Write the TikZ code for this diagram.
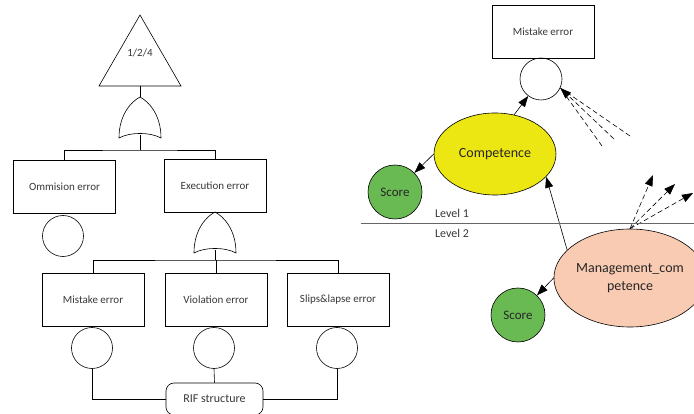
\documentclass[tikz,border=0pt]{standalone}
\usepackage{fontspec}
\setmainfont{Carlito}
\usetikzlibrary{arrows.meta,shapes.geometric}
\definecolor{compyellow}{RGB}{236,230,18}
\definecolor{scoregreen}{RGB}{106,186,84}
\definecolor{mgmtpeach}{RGB}{249,203,178}
\definecolor{txt}{RGB}{55,55,55}
\tikzset{
  every path/.style={line width=0.6pt},
  evbox/.style={draw, rectangle, minimum width=102pt, minimum height=53pt, inner sep=0pt,
    font=\fontsize{11}{13}\selectfont, text=txt},
  basic/.style={draw, circle, minimum size=41pt, inner sep=0pt},
  rif/.style={draw, rectangle, rounded corners=8pt, minimum width=97pt, minimum height=32pt,
    font=\fontsize{12}{14}\selectfont, text=txt},
  score/.style={draw, circle, fill=scoregreen, minimum size=54pt, inner sep=0pt,
    font=\fontsize{13}{15}\selectfont, text=black!85},
  factor/.style={draw, ellipse, inner sep=0pt, align=center, text=black!85},
  arr/.style={-{Triangle[length=11pt,width=8pt]}},
  dasharr/.style={arr, dash pattern=on 5pt off 3pt},
  dashln/.style={dash pattern=on 5pt off 3pt},
  lvl/.style={font=\fontsize{12}{14}\selectfont, text=txt}
}
% OR gate: #1 name, (#2,#3) tip, #4 half width, #5 height
\newcommand{\orgate}[5]{%
  \coordinate (#1-top) at (#2,#3);
  \coordinate (#1-bot) at (#2,#3+#5-3);
  \draw (#2-#4,#3+#5) .. controls (#2-#4,#3+0.45*#5) and (#2-0.45*#4,#3+0.12*#5) .. (#2,#3)
        .. controls (#2+0.45*#4,#3+0.12*#5) and (#2+#4,#3+0.45*#5) .. (#2+#4,#3+#5)
        .. controls (#2+0.5*#4,#3+#5-6) and (#2-0.5*#4,#3+#5-6) .. cycle;
}
\begin{document}
\begin{tikzpicture}[x=1pt,y=-1pt]
\useasboundingbox (0,0) rectangle (694,414);

% ---------- fault tree ----------
\draw (140,15) -- (181,86) -- (99,86) -- cycle;
\coordinate (tri-b) at (140,86);
\node[font=\fontsize{11}{13}\selectfont, text=txt] (topev) at (140,53) {1/2/4};

\orgate{g1}{140}{97}{21}{41}
\draw (tri-b) -- (g1-top);
\coordinate (j1) at (140,150);

\node[evbox] (om) at (64.5,186.5) {Ommision error};
\node[evbox] (ex) at (215,185.5) {Execution error};
\draw (g1-bot) -- (j1);
\draw (om.north) |- (j1) -| (ex.north);
\node[basic] (omc) at (63,236) {};

\orgate{g2}{215}{212}{21}{41}
\coordinate (j2) at (215,260);
\draw (g2-bot) -- (j2);

\node[evbox] (mis) at (93,299.5) {Mistake error};
\node[evbox] (vio) at (216,299.5) {Violation error};
\node[evbox] (sli) at (338,299.5) {Slips\&lapse error};
\draw (mis.north) |- (j2) -| (sli.north);
\draw (j2 -| vio.north) -- (vio.north);

\node[basic] (mc1) at (92,348) {};
\node[basic] (mc2) at (214,348) {};
\node[basic] (mc3) at (337,348) {};

\node[rif] (rifs) at (214.5,399) {RIF structure};
\draw (mc1.south) |- (rifs.west);
\draw (mc3.south) |- (rifs.east);
\draw (mc2.south) -- (rifs.north);

% ---------- RIF structure ----------
\node[evbox] (mbox) at (543,32) {Mistake error};
\node[basic, minimum size=42pt] (mcr) at (541,79) {};

\node[factor, fill=compyellow, minimum width=122pt, minimum height=82pt,
      font=\fontsize{14}{16}\selectfont] (comp) at (495,154) {Competence};
\node[score] (sc1) at (395,192) {Score};

\node[factor, fill=mgmtpeach, minimum width=138pt, minimum height=98pt,
      font=\fontsize{14}{18}\selectfont] (mgmt) at (630,278) {Management\_com\\petence};
\node[score] (sc2) at (518,315) {Score};

\draw[arr] (comp.64) -- (mcr);
\draw[arr] (comp.west) -- (sc1);
\draw[arr] (mgmt.156) -- (comp.-24);
\draw[arr] (mgmt.west) -- (sc2);

% incoming influences from other factors
\coordinate (d1) at (602,146);
\coordinate (d2) at (614,139);
\coordinate (d3) at (630,136);
\draw[dashln] (d1) -- (mcr.-25);
\draw[dashln] (d3) -- (mcr.-25);
\draw[dasharr] (d2) -- (mcr.-25);

% outgoing influences to other factors
\coordinate (u1) at (653,175);
\coordinate (u2) at (675,184);
\coordinate (u3) at (693,193);
\draw[dasharr] (mgmt.north) -- (u1);
\draw[dasharr] (mgmt.north) -- (u2);
\draw[dasharr] (mgmt.north) -- (u3);

% level separator
\coordinate (lv-a) at (361,223);
\coordinate (lv-b) at (694,223);
\draw[black!60, line width=0.8pt] (lv-a) -- (lv-b);
\node[lvl] (lv1) at (452,213) {Level 1};
\node[lvl] (lv2) at (452,233) {Level 2};
\end{tikzpicture}
\end{document}
